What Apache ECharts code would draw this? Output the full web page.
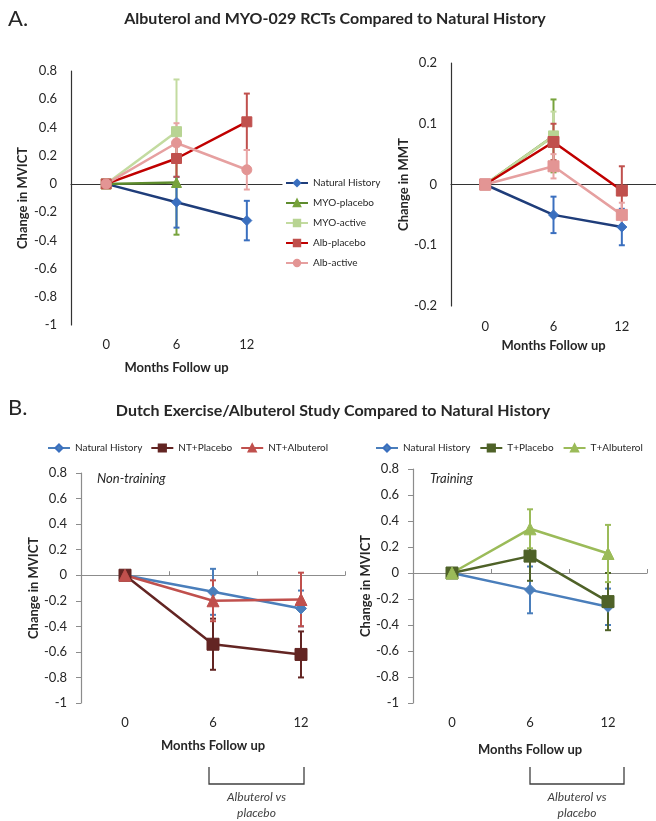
<!DOCTYPE html>
<html>
<head>
<meta charset="utf-8">
<script src="https://cdn.jsdelivr.net/npm/echarts@6/dist/echarts.min.js"></script>
<style>
  html, body { margin: 0; padding: 0; background: #fff; }
  #chart { width: 656px; height: 821px; }
</style>
</head>
<body>
<div id="chart"></div>
<script>
const months = ['0', '6', '12'];

// A. MVICT
const naturalMvict = [0, -0.13, -0.26];
const naturalMvictErr = [0, 0.18, 0.14];
const myoPlaceboMvict = [0, 0.01];
const myoPlaceboMvictErr = [0, 0.37];
const myoActiveMvict = [0, 0.37];
const myoActiveMvictErr = [0, 0.37];
const albPlaceboMvict = [0, 0.18, 0.44];
const albPlaceboMvictErr = [0, 0.13, 0.2];
const albActiveMvict = [0, 0.29, 0.10];
const albActiveMvictErr = [0, 0.14, 0.14];

// A. MMT
const naturalMmt = [0, -0.05, -0.07];
const naturalMmtErr = [0, 0.03, 0.03];
const myoPlaceboMmt = [0, 0.08];
const myoPlaceboMmtErr = [0, 0.06];
const myoActiveMmt = [0, 0.08];
const myoActiveMmtErr = [0, 0.04];
const albPlaceboMmt = [0, 0.07, -0.01];
const albPlaceboMmtErr = [0, 0.03, 0.04];
const albActiveMmt = [0, 0.03, -0.05];
const albActiveMmtErr = [0, 0.02, 0.02];

// B. Dutch study
const ntPlacebo = [0, -0.54, -0.62];
const ntPlaceboErr = [0, 0.2, 0.18];
const ntAlbuterol = [0, -0.2, -0.19];
const ntAlbuterolErr = [0, 0.16, 0.21];
const tPlacebo = [0, 0.13, -0.22];
const tPlaceboErr = [0, 0.19, 0.22];
const tAlbuterol = [0, 0.34, 0.15];
const tAlbuterolErr = [0, 0.15, 0.22];

const FONT = 'Lato';
const TXT = '#262626';
const GREY = '#8c8c8c';

const chart = echarts.init(document.getElementById('chart'));

function xAxes(g, labelMargin, nameGap, axisColor, ticks) {
  return [
    {
      type: 'category', gridIndex: g, data: months, position: 'bottom',
      axisLine: { show: false, onZero: false }, axisTick: { show: false },
      axisLabel: { fontSize: 13, color: TXT, fontFamily: FONT, margin: labelMargin },
      name: 'Months Follow up', nameLocation: 'middle', nameGap: nameGap,
      nameTextStyle: { fontSize: 13, fontWeight: 'bold', color: TXT, fontFamily: FONT }
    },
    {
      type: 'category', gridIndex: g, data: months, position: 'top',
      axisLine: { show: true, onZero: true, lineStyle: { color: axisColor, width: 1.2 } },
      axisTick: { show: ticks, length: 4, lineStyle: { color: axisColor } },
      axisLabel: { show: false }
    }
  ];
}

function yAxis(g, min, max, interval, name, nameGap, axisColor, ticks) {
  return {
    type: 'value', gridIndex: g, min: min, max: max, interval: interval,
    axisLine: { show: true, lineStyle: { color: axisColor, width: 1.2 } },
    axisTick: { show: ticks, length: 5, lineStyle: { color: axisColor } },
    splitLine: { show: false },
    axisLabel: { fontSize: 13, color: TXT, fontFamily: FONT, margin: 14 },
    name: name, nameLocation: 'middle', nameGap: nameGap,
    nameTextStyle: { fontSize: 13, fontWeight: 'bold', color: TXT, fontFamily: FONT }
  };
}

function line(name, data, g, lineColor, markColor, symbol, size, width) {
  return {
    name: name, type: 'line', xAxisIndex: 2 * g, yAxisIndex: g, data: data,
    symbol: symbol, symbolSize: size, showAllSymbol: true,
    lineStyle: { color: lineColor, width: width || 2.5 },
    itemStyle: { color: markColor, borderColor: markColor, borderWidth: 1 },
    emphasis: { disabled: true }, z: 3
  };
}

function errorBars(data, err, g, color) {
  return {
    type: 'custom', xAxisIndex: 2 * g, yAxisIndex: g, silent: true, z: 2,
    data: data.map(function (v, i) { return [i, v, err[i]]; }).filter(function (d) { return d[2] > 0; }),
    renderItem: function (params, api) {
      const x = api.value(0), y = api.value(1), e = api.value(2);
      const top = api.coord([x, y + e]);
      const bot = api.coord([x, y - e]);
      const w = 3;
      const st = { stroke: color, lineWidth: 2 };
      return {
        type: 'group',
        children: [
          { type: 'line', shape: { x1: top[0], y1: top[1], x2: bot[0], y2: bot[1] }, style: st },
          { type: 'line', shape: { x1: top[0] - w, y1: top[1], x2: top[0] + w, y2: top[1] }, style: st },
          { type: 'line', shape: { x1: bot[0] - w, y1: bot[1], x2: bot[0] + w, y2: bot[1] }, style: st }
        ]
      };
    }
  };
}

const legendText = { fontSize: 10, fontFamily: FONT, color: TXT };

const option = {
  animation: false,
  grid: [
    { left: 71, top: 71, width: 211, height: 254 },
    { left: 451, top: 63, width: 218, height: 243 },
    { left: 81, top: 473, width: 264, height: 230 },
    { left: 413, top: 469, width: 234, height: 234 }
  ],
  xAxis: [].concat(
    xAxes(0, 13, 36, '#333', false),
    xAxes(1, 14, 33, '#333', false),
    xAxes(2, 13, 36, GREY, true),
    xAxes(3, 13, 40, GREY, true)
  ),
  yAxis: [
    yAxis(0, -1, 0.8, 0.2, 'Change in MVICT', 42, '#333', false),
    yAxis(1, -0.2, 0.2, 0.1, 'Change in MMT', 40, '#333', false),
    yAxis(2, -1, 0.8, 0.2, 'Change in MVICT', 39, GREY, true),
    yAxis(3, -1, 0.8, 0.2, 'Change in MVICT', 39, GREY, true)
  ],
  legend: [
    {
      orient: 'vertical', left: 285, top: 178, padding: 0, itemWidth: 22, itemHeight: 8, itemGap: 10,
      selectedMode: false, textStyle: legendText,
      data: [
        { name: 'Natural History', itemStyle: { color: '#3a6fbf' }, lineStyle: { color: '#1f3d7a' } },
        { name: 'MYO-placebo', itemStyle: { color: '#77a33c' }, lineStyle: { color: '#5e8c2e' } },
        { name: 'MYO-active', itemStyle: { color: '#b8d493' }, lineStyle: { color: '#c3dba0' } },
        { name: 'Alb-placebo', itemStyle: { color: '#c0504d' }, lineStyle: { color: '#c00000' } },
        { name: 'Alb-active', itemStyle: { color: '#e39594' }, lineStyle: { color: '#e6a0a0' } }
      ]
    },
    {
      left: 47, top: 443, padding: 0, width: 300, itemWidth: 22, itemHeight: 9, itemGap: 8,
      selectedMode: false, textStyle: legendText,
      data: [
        { name: 'Natural History', itemStyle: { color: '#4a7ebb' }, lineStyle: { color: '#4a7ebb' } },
        { name: 'NT+Placebo', itemStyle: { color: '#632523' }, lineStyle: { color: '#632523' } },
        { name: 'NT+Albuterol', itemStyle: { color: '#c0504d' }, lineStyle: { color: '#c0504d' } }
      ]
    },
    {
      left: 375, top: 443, padding: 0, width: 281, itemWidth: 22, itemHeight: 9, itemGap: 9,
      selectedMode: false, textStyle: legendText,
      data: [
        { name: 'Natural History', itemStyle: { color: '#4a7ebb' }, lineStyle: { color: '#4a7ebb' } },
        { name: 'T+Placebo', itemStyle: { color: '#4f6228' }, lineStyle: { color: '#4f6228' } },
        { name: 'T+Albuterol', itemStyle: { color: '#9bbb59' }, lineStyle: { color: '#9bbb59' } }
      ]
    }
  ],
  series: [
    // A. MVICT
    errorBars(myoPlaceboMvict, myoPlaceboMvictErr, 0, '#77a33c'),
    errorBars(myoActiveMvict, myoActiveMvictErr, 0, '#c3dba0'),
    errorBars(naturalMvict, naturalMvictErr, 0, '#3a6fbf'),
    errorBars(albPlaceboMvict, albPlaceboMvictErr, 0, '#c0504d'),
    errorBars(albActiveMvict, albActiveMvictErr, 0, '#e8a4a4'),
    line('Natural History', naturalMvict, 0, '#1f3d7a', '#3a6fbf', 'diamond', 10),
    line('MYO-placebo', myoPlaceboMvict, 0, '#5e8c2e', '#77a33c', 'triangle', 10),
    line('MYO-active', myoActiveMvict, 0, '#c3dba0', '#b8d493', 'rect', 10),
    line('Alb-placebo', albPlaceboMvict, 0, '#c00000', '#c0504d', 'rect', 10),
    line('Alb-active', albActiveMvict, 0, '#e6a0a0', '#e39594', 'circle', 10),
    // A. MMT
    errorBars(myoPlaceboMmt, myoPlaceboMmtErr, 1, '#77a33c'),
    errorBars(myoActiveMmt, myoActiveMmtErr, 1, '#c3dba0'),
    errorBars(naturalMmt, naturalMmtErr, 1, '#3a6fbf'),
    errorBars(albPlaceboMmt, albPlaceboMmtErr, 1, '#c0504d'),
    errorBars(albActiveMmt, albActiveMmtErr, 1, '#e8a4a4'),
    line('Natural History', naturalMmt, 1, '#1f3d7a', '#3a6fbf', 'diamond', 10),
    line('MYO-placebo', myoPlaceboMmt, 1, '#5e8c2e', '#77a33c', 'triangle', 10),
    line('MYO-active', myoActiveMmt, 1, '#c3dba0', '#b8d493', 'rect', 10),
    line('Alb-placebo', albPlaceboMmt, 1, '#c00000', '#c0504d', 'rect', 11),
    line('Alb-active', albActiveMmt, 1, '#e6a0a0', '#e39594', 'rect', 11),
    // B. non-training
    errorBars(naturalMvict, naturalMvictErr, 2, '#4a7ebb'),
    errorBars(ntPlacebo, ntPlaceboErr, 2, '#632523'),
    errorBars(ntAlbuterol, ntAlbuterolErr, 2, '#c0504d'),
    line('Natural History', naturalMvict, 2, '#4a7ebb', '#4a7ebb', 'diamond', 11),
    line('NT+Placebo', ntPlacebo, 2, '#632523', '#632523', 'rect', 12),
    line('NT+Albuterol', ntAlbuterol, 2, '#c0504d', '#c0504d', 'triangle', 12),
    // B. training
    errorBars(naturalMvict, naturalMvictErr, 3, '#4a7ebb'),
    errorBars(tPlacebo, tPlaceboErr, 3, '#4f6228'),
    errorBars(tAlbuterol, tAlbuterolErr, 3, '#9bbb59'),
    line('Natural History', naturalMvict, 3, '#4a7ebb', '#4a7ebb', 'diamond', 11),
    line('T+Placebo', tPlacebo, 3, '#4f6228', '#4f6228', 'rect', 12),
    line('T+Albuterol', tAlbuterol, 3, '#9bbb59', '#9bbb59', 'triangle', 12)
  ]
};

chart.setOption(option);

// headings, panel notes and the "Albuterol vs placebo" brackets
function text(x, y, str, size, extra) {
  return {
    type: 'text', x: x, y: y, silent: true,
    style: Object.assign({ text: str, fontSize: size, fontFamily: FONT, fill: TXT,
      textAlign: 'center', textVerticalAlign: 'middle' }, extra || {})
  };
}

function bracket(xIndex, padL, padR) {
  const x1 = chart.convertToPixel({ xAxisIndex: xIndex }, 1) + padL;
  const x2 = chart.convertToPixel({ xAxisIndex: xIndex }, 2) + padR;
  const mid = (x1 + x2) / 2;
  return [
    {
      type: 'polyline', silent: true,
      shape: { points: [[x1, 767], [x1, 784], [x2, 784], [x2, 767]] },
      style: { stroke: '#404040', lineWidth: 1.3, fill: null }
    },
    text(mid, 797, 'Albuterol vs', 12, { fontStyle: 'italic', fill: '#404040' }),
    text(mid, 813, 'placebo', 12, { fontStyle: 'italic', fill: '#404040' })
  ];
}

chart.setOption({
  graphic: [
    text(8, 19, 'A.', 22, { textAlign: 'left' }),
    text(335, 19, 'Albuterol and MYO-029 RCTs Compared to Natural History', 16, { fontWeight: 'bold' }),
    text(8, 408, 'B.', 22, { textAlign: 'left' }),
    text(333, 411, 'Dutch Exercise/Albuterol Study Compared to Natural History', 16, { fontWeight: 'bold' }),
    text(97, 479, 'Non-training', 13, { textAlign: 'left', fontStyle: 'italic' }),
    text(430, 479, 'Training', 13, { textAlign: 'left', fontStyle: 'italic' })
  ].concat(bracket(4, -4, 3), bracket(6, 0, 16))
});
</script>
</body>
</html>
